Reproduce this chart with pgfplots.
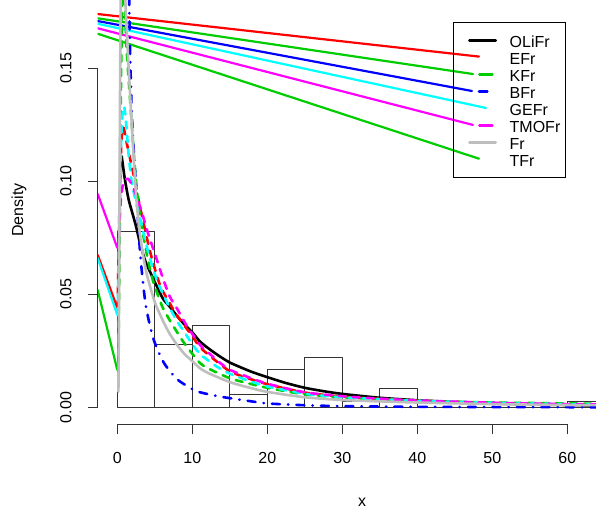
\documentclass[border=0pt]{standalone}
\usepackage{fontspec}
\setmainfont{Liberation Sans}
\usepackage{pgfplots}
\pgfplotsset{compat=1.18}
\definecolor{rgreen}{RGB}{0,205,0}
\definecolor{rgray}{RGB}{190,190,190}
\definecolor{rcyan}{RGB}{0,255,255}
\definecolor{rmag}{RGB}{255,0,255}
\definecolor{rred}{RGB}{255,0,0}
\definecolor{rblue}{RGB}{0,0,255}
\begin{document}
\begin{tikzpicture}[font=\fontsize{16bp}{19bp}\selectfont]
\begin{axis}[
  name=ax, at={(0,0)}, anchor=south west,
  scale only axis, width=498.3bp, height=424bp,
  xmin=-2.613, xmax=63.83, ymin=-0.00729, ymax=0.18,
  axis line style={draw=none},
  clip mode=individual,
  /pgf/number format/assume math mode=true,
  xtick={0,10,20,30,40,50,60}, xticklabels={0,10,20,30,40,50,60},
  ytick={0,0.05,0.1,0.15}, yticklabels={0.00,0.05,0.10,0.15},
  xtick pos=left, ytick pos=left,
  tick align=outside, major tick length=10bp,
  tick style={black!80, line width=0.8bp},
  xticklabel style={anchor=north, inner sep=0pt, font=\fontsize{16bp}{19bp}\selectfont},
  xticklabel shift=17.7bp,
  yticklabel style={rotate=90, anchor=south, inner sep=0pt, font=\fontsize{16bp}{19bp}\selectfont},
  yticklabel shift=16bp,
  legend style={at={(0.7136,0.9474)}, anchor=north west, draw=black, line width=0.8bp, fill=none,
    inner xsep=0pt, inner ysep=9.2bp, /tikz/row sep=0pt, /tikz/column sep=0pt,
    font=\fontsize{16bp}{19bp}\selectfont,
    nodes={inner sep=0pt, text height=15.7bp, text depth=1.3bp, text width=55.7bp, align=left, anchor=west}},
  legend cell align=left,
  every axis plot/.append style={line cap=round, line join=round},
]
% histogram
\addplot[ybar interval, draw=black!80, line width=1bp, fill=none, forget plot] coordinates {
 (0,0.07778) (5,0.02778) (10,0.03611) (15,0.00556) (20,0.01667) (25,0.02222) (30,0.00278)
 (35,0.00833) (40,0) (45,0) (50,0) (55,0) (60,0.00278) (65,0.00278)};

% short left segments
\addplot[rmag, line width=2.2bp, forget plot] coordinates {(-2.613,0.0943) (0,0.0705)};
\addplot[rred, line width=2.2bp, forget plot] coordinates {(-2.613,0.0674) (0,0.0441)};
\addplot[rcyan, line width=2.2bp, forget plot] coordinates {(-2.613,0.0660) (0,0.0409)};
\addplot[rgreen, line width=2.2bp, forget plot] coordinates {(-2.613,0.0519) (0,0.0166)};

% long straight lines into the legend
\addplot[rred, line width=2.2bp, forget plot] coordinates {(-2.613,0.1738) (48.23,0.1550)};
\addplot[rgreen, line width=2.2bp, forget plot] coordinates {(-2.613,0.1719) (47.43,0.1473)};
\addplot[rblue, line width=2.2bp, forget plot] coordinates {(-2.613,0.1707) (47.29,0.1398)};
\addplot[rcyan, line width=2.2bp, forget plot] coordinates {(-2.613,0.1695) (49.16,0.1323)};
\addplot[rmag, line width=2.2bp, forget plot] coordinates {(-2.613,0.1675) (47.43,0.1248)};
\addplot[rgreen, line width=2.2bp, forget plot] coordinates {(-2.613,0.1651) (48.23,0.1099)};

% OLiFr
\addplot[black, line width=2.6bp, smooth, tension=0.4, forget plot] coordinates {
 (0.59,0.111) (1.0,0.101) (1.5,0.092) (2.0,0.086) (2.5,0.080) (3.0,0.073) (3.7,0.065) (4.4,0.0597)
 (5.2,0.054) (6.1,0.048) (7.0,0.0445) (8.0,0.0403) (9.0,0.0365) (10,0.0332) (11.07,0.029)
 (12.4,0.0255) (13.7,0.0225) (15.1,0.0197) (17.8,0.0159) (20,0.0134) (22.5,0.0108) (25,0.0087)
 (27.5,0.0072) (30,0.0060) (35,0.0043) (40,0.0032) (45,0.0024) (50,0.0018) (55,0.0014) (60,0.0011) (65,0.0009)};
% EFr
\addplot[rred, line width=2.6bp, dash pattern=on 7bp off 7bp, smooth, tension=0.4, forget plot] coordinates {
 (0.05,0.0441) (0.3,0.09) (0.55,0.118) (0.8,0.124) (1.25,0.117) (1.7,0.11) (2.1,0.104) (3.07,0.088)
 (4.4,0.0685) (5.7,0.054) (7.0,0.046) (8.0,0.0405) (10,0.0315) (11.07,0.0265) (13,0.021) (15.1,0.0158)
 (17.8,0.0125) (20,0.0103) (25,0.0066) (30,0.0048) (35,0.0038) (40,0.003) (50,0.002) (60,0.0014) (65,0.0012)};
% KFr
\addplot[rgreen, line width=2.6bp, dash pattern=on 7bp off 7bp, smooth, tension=0.4, forget plot] coordinates {
 (0.13,0.0166) (0.3,0.07) (0.45,0.13) (0.6,0.17) (0.75,0.19) (0.9,0.19) (1.05,0.175) (1.25,0.158)
 (1.7,0.136) (2.3,0.108) (2.8,0.09) (3.47,0.076) (4.1,0.065) (4.8,0.0555) (5.97,0.0448) (7.0,0.0385)
 (7.74,0.0345) (8.7,0.0295) (9.75,0.0248) (11.07,0.0195) (12.4,0.0168) (15.1,0.0128) (17.8,0.0104)
 (20,0.0087) (25,0.0058) (30,0.0044) (35,0.0036) (40,0.0029) (50,0.0022) (60,0.0018) (65,0.0016)};
% BFr
\addplot[rblue, line width=2.6bp, dash pattern=on 0.5bp off 8bp on 8bp off 8bp, smooth, tension=0.4, forget plot] coordinates {
 (1.4,0.25) (1.6,0.177) (1.92,0.131) (2.5,0.097) (3.05,0.068) (3.8,0.045) (4.85,0.030) (6.2,0.0198)
 (8.0,0.0124) (10.6,0.0072) (13.75,0.0048) (16.9,0.0032) (20,0.0018) (25,0.001) (30,0.0006)
 (40,0.0003) (50,0.0002) (65,0.0001)};
% GEFr
\addplot[rcyan, line width=2.6bp, dash pattern=on 7bp off 7bp, smooth, tension=0.4, forget plot] coordinates {
 (0.05,0.0409) (0.3,0.09) (0.6,0.125) (0.9,0.133) (1.2,0.125) (1.5,0.112) (1.9,0.1) (2.4,0.092)
 (3.0,0.084) (4.17,0.068) (5.3,0.056) (6.84,0.045) (8.0,0.038) (9.0,0.033) (10,0.028) (11.07,0.0235)
 (13.3,0.018) (15.1,0.0148) (17.8,0.0115) (20,0.0093) (25,0.0061) (30,0.0045) (35,0.0037) (40,0.003)
 (50,0.0021) (60,0.0015) (65,0.0013)};
% TMOFr
\addplot[rmag, line width=2.6bp, dash pattern=on 7bp off 7bp, smooth, tension=0.4, forget plot] coordinates {
 (0.1,0.0705) (0.5,0.093) (0.9,0.1) (1.44,0.101) (2.0,0.098) (2.6,0.093) (3.3,0.086) (3.9,0.079)
 (4.85,0.0695) (6.2,0.056) (7.0,0.049) (8.0,0.0435) (9.0,0.0375) (10,0.0325) (11.07,0.0275)
 (12.4,0.0235) (13.7,0.0197) (15.1,0.0165) (17.8,0.013) (20,0.0105) (25,0.0067) (30,0.005)
 (35,0.0039) (40,0.0031) (50,0.0021) (60,0.0015) (65,0.0013)};
% Fr
\addplot[rgray, line width=2.6bp, smooth, tension=0.4, forget plot] coordinates {
 (0.15,0.007) (0.25,0.06) (0.35,0.13) (0.45,0.18) (0.6,0.215) (0.8,0.21) (1.07,0.18) (1.5,0.151)
 (2.0,0.121) (2.3,0.104) (2.65,0.088) (3.0,0.077) (3.5,0.066) (4.0,0.058) (5.0,0.0465) (6.2,0.0375)
 (7.0,0.0325) (8.0,0.0275) (9.0,0.0235) (10,0.0205) (11.07,0.0172) (12.4,0.0148) (15.1,0.0111)
 (17.8,0.0086) (20,0.0069) (25,0.0045) (30,0.0033) (35,0.0027) (40,0.0022) (50,0.0015) (60,0.0011) (65,0.001)};

% axis lines (R style)
\draw[black!80, line width=0.8bp] (axis cs:0,-0.00729) -- (axis cs:60,-0.00729);
\draw[black!80, line width=0.8bp] (axis cs:-2.613,0) -- (axis cs:-2.613,0.15);

% legend
\addlegendimage{legend image code/.code={\path[draw=none,fill=none] (-14.4bp,-1bp) rectangle (41.6bp,1bp);
  \draw[black, line width=2.6bp, line cap=round] (1.3bp,0bp) -- (27.7bp,0bp);}}
\addlegendentry{OLiFr}
\addlegendimage{legend image code/.code={\path[draw=none,fill=none] (-14.4bp,-1bp) rectangle (41.6bp,1bp);}}
\addlegendentry{EFr}
\addlegendimage{legend image code/.code={\path[draw=none,fill=none] (-14.4bp,-1bp) rectangle (41.6bp,1bp);
  \draw[rgreen, line width=2.6bp, line cap=round] (11.3bp,0bp) -- (24.3bp,0bp);}}
\addlegendentry{KFr}
\addlegendimage{legend image code/.code={\path[draw=none,fill=none] (-14.4bp,-1bp) rectangle (41.6bp,1bp);
  \draw[rblue, line width=2.6bp, line cap=round] (10.9bp,0bp) -- (19.3bp,0bp);}}
\addlegendentry{BFr}
\addlegendimage{legend image code/.code={\path[draw=none,fill=none] (-14.4bp,-1bp) rectangle (41.6bp,1bp);}}
\addlegendentry{GEFr}
\addlegendimage{legend image code/.code={\path[draw=none,fill=none] (-14.4bp,-1bp) rectangle (41.6bp,1bp);
  \draw[rmag, line width=2.6bp, line cap=round] (11.3bp,0bp) -- (24.3bp,0bp);}}
\addlegendentry{TMOFr}
\addlegendimage{legend image code/.code={\path[draw=none,fill=none] (-14.4bp,-1bp) rectangle (41.6bp,1bp);
  \draw[rgray, line width=2.6bp, line cap=round] (1.3bp,0bp) -- (27.7bp,0bp);}}
\addlegendentry{Fr}
\addlegendimage{legend image code/.code={\path[draw=none,fill=none] (-14.4bp,-1bp) rectangle (41.6bp,1bp);}}
\addlegendentry{TFr}
\end{axis}
\node[rotate=90, anchor=base] at ([shift={(-74.5bp,214bp)}]ax.south west) {Density};
\node[anchor=base] at ([shift={(264.3bp,-82.7bp)}]ax.south west) {x};
\pgfresetboundingbox
\path[use as bounding box] ([shift={(-97.7bp,-87bp)}]ax.south west) rectangle ++(596bp,511bp);
\end{tikzpicture}
\end{document}
